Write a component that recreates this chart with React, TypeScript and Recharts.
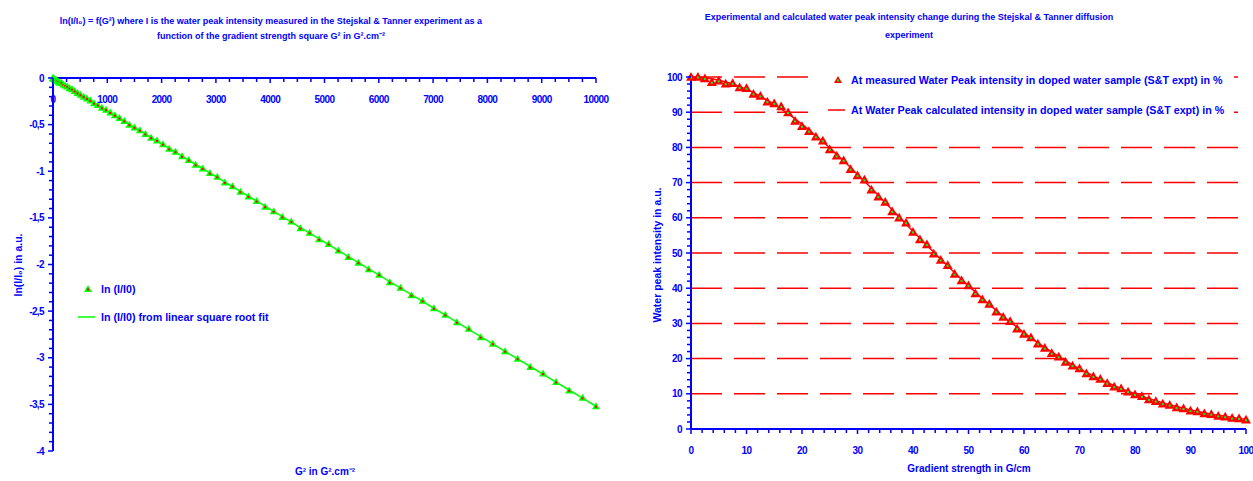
import { ComposedChart, Line, Scatter, XAxis, YAxis, CartesianGrid, Legend } from 'recharts';

const BLUE = '#0000FF';
const GREEN = '#00FF00';
const RED = '#FF0000';
const FONT = "'Liberation Sans Narrow', 'Liberation Sans', Arial, sans-serif";

// gradient strength steps of the Stejskal & Tanner run (G/cm)
const GRADIENT = [
  0, 1.25, 2.5, 3.75, 5, 6.25, 7.5, 8.75, 10, 11.25, 12.5, 13.75, 15, 16.25, 17.5, 18.75,
  20, 21.25, 22.5, 23.75, 25, 26.25, 27.5, 28.75, 30, 31.25, 32.5, 33.75, 35, 36.25, 37.5, 38.75,
  40, 41.25, 42.5, 43.75, 45, 46.25, 47.5, 48.75, 50, 51.25, 52.5, 53.75, 55, 56.25, 57.5, 58.75,
  60, 61.25, 62.5, 63.75, 65, 66.25, 67.5, 68.75, 70, 71.25, 72.5, 73.75, 75, 76.25, 77.5, 78.75,
  80, 81.25, 82.5, 83.75, 85, 86.25, 87.5, 88.75, 90, 91.25, 92.5, 93.75, 95, 96.25, 97.5, 98.75, 100,
];

// G² in G².cm⁻²
const GRADIENT_SQ = [
  0, 1.56, 6.25, 14.06, 25, 39.06, 56.25, 76.56, 100, 126.56, 156.25, 189.06, 225, 264.06, 306.25, 351.56,
  400, 451.56, 506.25, 564.06, 625, 689.06, 756.25, 826.56, 900, 976.56, 1056.25, 1139.06, 1225, 1314.06, 1406.25, 1501.56,
  1600, 1701.56, 1806.25, 1914.06, 2025, 2139.06, 2256.25, 2376.56, 2500, 2626.56, 2756.25, 2889.06, 3025, 3164.06, 3306.25, 3451.56,
  3600, 3751.56, 3906.25, 4064.06, 4225, 4389.06, 4556.25, 4726.56, 4900, 5076.56, 5256.25, 5439.06, 5625, 5814.06, 6006.25, 6201.56,
  6400, 6601.56, 6806.25, 7014.06, 7225, 7439.06, 7656.25, 7876.56, 8100, 8326.56, 8556.25, 8789.06, 9025, 9264.06, 9506.25, 9751.56, 10000,
];

const LN_MEASURED = [
  0, 0, -0.01, -0.01, -0.01, -0.02, -0.02, -0.03, -0.04, -0.05, -0.05, -0.07, -0.08, -0.09, -0.11, -0.12,
  -0.14, -0.16, -0.18, -0.2, -0.22, -0.24, -0.27, -0.29, -0.32, -0.34, -0.37, -0.4, -0.43, -0.46, -0.5, -0.53,
  -0.56, -0.6, -0.64, -0.67, -0.71, -0.76, -0.79, -0.84, -0.88, -0.93, -0.97, -1.02, -1.06, -1.12, -1.16, -1.22,
  -1.27, -1.32, -1.38, -1.43, -1.49, -1.54, -1.61, -1.66, -1.73, -1.78, -1.85, -1.92, -1.98, -2.05, -2.11, -2.19,
  -2.25, -2.33, -2.39, -2.47, -2.54, -2.62, -2.69, -2.78, -2.85, -2.93, -3.01, -3.1, -3.17, -3.26, -3.35, -3.43, -3.52,
];

const LN_FIT = [
  0, -0.001, -0.002, -0.005, -0.009, -0.014, -0.02, -0.027, -0.035, -0.045, -0.055, -0.067, -0.079, -0.093, -0.108, -0.124,
  -0.141, -0.159, -0.178, -0.199, -0.22, -0.243, -0.266, -0.291, -0.317, -0.344, -0.372, -0.401, -0.431, -0.463, -0.495, -0.529,
  -0.563, -0.599, -0.636, -0.674, -0.713, -0.753, -0.794, -0.837, -0.88, -0.925, -0.97, -1.017, -1.065, -1.114, -1.164, -1.215,
  -1.267, -1.321, -1.375, -1.431, -1.487, -1.545, -1.604, -1.664, -1.725, -1.787, -1.85, -1.915, -1.98, -2.047, -2.114, -2.183,
  -2.253, -2.324, -2.396, -2.469, -2.543, -2.619, -2.695, -2.773, -2.851, -2.931, -3.012, -3.094, -3.177, -3.261, -3.346, -3.433, -3.52,
];

const PCT_MEASURED = [
  100, 100, 99.6, 98.5, 98.9, 98.1, 98.2, 97, 96.8, 95.2, 94.6, 93, 92.5, 91.6, 89.9, 87.5,
  86, 84.6, 83, 81.9, 79.4, 77.6, 76.3, 73.8, 72, 70.8, 68, 66, 64.5, 61.8, 60, 58.6,
  56, 53.8, 52.4, 49.8, 48, 46.5, 44, 42.2, 40.8, 38.5, 36.8, 35.5, 33.3, 31.8, 30.6, 28.5,
  27, 26, 24.2, 23, 21.5, 20.5, 19, 18, 17.2, 15.8, 14.9, 14.2, 13, 12, 11.5, 10.6,
  9.8, 9.3, 8.4, 7.9, 7.2, 6.8, 6.1, 5.8, 5.2, 5, 4.4, 4.2, 3.7, 3.5, 3.1, 3, 2.6,
];

const PCT_CALC = [
  100, 99.9, 99.8, 99.5, 99.1, 98.6, 98, 97.3, 96.5, 95.6, 94.5, 93.4, 92.2, 90.9, 89.6, 88.1,
  86.6, 85, 83.3, 81.6, 79.9, 78, 76.2, 74.3, 72.3, 70.4, 68.4, 66.4, 64.3, 62.3, 60.3, 58.2,
  56.2, 54.2, 52.2, 50.2, 48.2, 46.3, 44.4, 42.5, 40.7, 38.9, 37.1, 35.3, 33.7, 32, 30.4, 28.9,
  27.4, 25.9, 24.5, 23.2, 21.9, 20.6, 19.4, 18.2, 17.1, 16.1, 15.1, 14.1, 13.2, 12.3, 11.5, 10.7,
  10, 9.3, 8.6, 8, 7.4, 6.9, 6.4, 5.9, 5.4, 5, 4.6, 4.2, 3.9, 3.6, 3.3, 3, 2.7,
];

const LEFT_X_LABELS = [0, 1000, 2000, 3000, 4000, 5000, 6000, 7000, 8000, 9000, 10000];
const LEFT_Y_LABELS = [0, -0.5, -1, -1.5, -2, -2.5, -3, -3.5, -4];
const RIGHT_X_LABELS = [0, 10, 20, 30, 40, 50, 60, 70, 80, 90, 100];
const RIGHT_Y_LABELS = [0, 10, 20, 30, 40, 50, 60, 70, 80, 90, 100];
const RIGHT_GRID = [10, 20, 30, 40, 50, 60, 70, 80, 90, 100];

const leftData = GRADIENT_SQ.map((g2, i) => ({ g2, measured: LN_MEASURED[i], fit: LN_FIT[i] }));
const rightData = GRADIENT.map((g, i) => ({ g, measured: PCT_MEASURED[i], calc: PCT_CALC[i] }));

// minor tick positions between the labelled ones
function steps(from: number, to: number, step: number) {
  const out: number[] = [];
  const n = Math.round((to - from) / step);
  for (let i = 0; i <= n; i++) out.push(+(from + i * step).toFixed(6));
  return out;
}

const isMajor = (v: number, majors: number[]) => majors.some((m) => Math.abs(m - v) < 1e-6);
const commaFmt = (v: number) => String(v).replace('.', ',');

const tickText = { fontFamily: FONT, fontSize: 10, fontWeight: 700, fill: BLUE, letterSpacing: -0.6 };

function makeTick(side: 'left' | 'top' | 'bottom', majors: number[], fmt: (v: number) => string) {
  return function Tick(props: any) {
    const { x, y, payload } = props;
    const v = payload.value;
    const major = isMajor(v, majors);
    const len = major ? 5 : 4;
    if (side === 'left') {
      return (
        <g>
          <line x1={x - len} y1={y} x2={x} y2={y} stroke={BLUE} strokeWidth={1.5} />
          {major && (
            <text x={x - 9} y={y} dy="0.35em" textAnchor="end" style={tickText}>
              {fmt(v)}
            </text>
          )}
        </g>
      );
    }
    return (
      <g>
        <line x1={x} y1={y} x2={x} y2={y + len} stroke={BLUE} strokeWidth={1.5} />
        {major && (
          <text x={x} y={y + 21} dy="0.35em" textAnchor="middle" style={tickText}>
            {fmt(v)}
          </text>
        )}
      </g>
    );
  };
}

function Triangle({ cx, cy, fill, dot, r }: { cx: number; cy: number; fill: string; dot: string; r: number }) {
  return (
    <g>
      <path d={`M${cx},${cy - r} L${cx + r},${cy + r * 0.75} L${cx - r},${cy + r * 0.75} Z`} fill={fill} />
      <rect x={cx - 1} y={cy - 0.5} width={2} height={2} fill={dot} />
    </g>
  );
}

type LegendItem = { label: string; kind: 'marker' | 'line'; color: string; dot: string };

const LEFT_LEGEND: LegendItem[] = [
  { label: 'ln (I/I0)', kind: 'marker', color: GREEN, dot: RED },
  { label: 'ln (I/I0) from linear square root fit', kind: 'line', color: GREEN, dot: RED },
];

const RIGHT_LEGEND: LegendItem[] = [
  { label: 'At measured Water Peak intensity in doped water sample (S&T expt) in %', kind: 'marker', color: RED, dot: GREEN },
  { label: 'At Water Peak calculated intensity in doped water sample (S&T expt) in %', kind: 'line', color: RED, dot: GREEN },
];

function LegendBox({ items, rowHeight, padLeft }: { items: LegendItem[]; rowHeight: number; padLeft: number }) {
  return (
    <div style={{ background: '#fff', paddingLeft: padLeft, paddingRight: 10 }}>
      {items.map((it) => (
        <div key={it.label} style={{ display: 'flex', alignItems: 'center', height: rowHeight }}>
          <svg width={18} height={10} style={{ marginRight: 5 }}>
            {it.kind === 'line' ? (
              <line x1={0} y1={5} x2={17} y2={5} stroke={it.color} strokeWidth={1.5} />
            ) : (
              <Triangle cx={10} cy={5} r={4} fill={it.color} dot={it.dot} />
            )}
          </svg>
          <span style={{ fontFamily: FONT, fontSize: 10.7, fontWeight: 700, color: BLUE, whiteSpace: 'nowrap' }}>
            {it.label}
          </span>
        </div>
      ))}
    </div>
  );
}

const textStyle: React.CSSProperties = {
  position: 'absolute',
  fontFamily: FONT,
  fontSize: 10,
  fontWeight: 700,
  color: BLUE,
  whiteSpace: 'nowrap',
  transform: 'translate(-50%, -50%)',
  lineHeight: '12px',
};

export default function App() {
  return (
    <div style={{ position: 'absolute', left: 0, top: 0, width: 1253, height: 481, background: '#fff', overflow: 'hidden' }}>
      <div style={{ position: 'absolute', left: 0, top: 0 }}>
        <ComposedChart width={620} height={481} data={leftData} margin={{ top: 77, left: 52, right: 24, bottom: 30 }}>
          <XAxis
            dataKey="g2"
            type="number"
            orientation="top"
            domain={[0, 10000]}
            ticks={steps(0, 10000, 250)}
            interval={0}
            height={1}
            tickSize={0}
            tickMargin={0}
            tick={makeTick('top', LEFT_X_LABELS, (v) => String(v))}
            axisLine={{ stroke: BLUE, strokeWidth: 2 }}
            tickLine={false}
          />
          <YAxis
            type="number"
            domain={[-4, 0]}
            ticks={steps(-4, 0, 0.1)}
            interval={0}
            width={1}
            tickSize={0}
            tickMargin={0}
            tick={makeTick('left', LEFT_Y_LABELS, commaFmt)}
            axisLine={{ stroke: BLUE, strokeWidth: 2 }}
            tickLine={false}
          />
          <Line type="linear" dataKey="fit" stroke={GREEN} strokeWidth={1.5} dot={false} isAnimationActive={false} />
          <Scatter
            dataKey="measured"
            isAnimationActive={false}
            shape={(p: any) => <Triangle cx={p.cx} cy={p.cy} r={4} fill={GREEN} dot={RED} />}
          />
          <Legend
            layout="horizontal"
            verticalAlign="middle"
            align="center"
            wrapperStyle={{ left: 70, top: 275, width: 'auto', height: 'auto' }}
            content={() => <LegendBox items={LEFT_LEGEND} rowHeight={28} padLeft={8} />}
          />
        </ComposedChart>
      </div>

      <div style={{ position: 'absolute', left: 630, top: 0 }}>
        <ComposedChart width={623} height={481} data={rightData} margin={{ top: 77, left: 60, right: 7, bottom: 51 }}>
          <CartesianGrid
            horizontal
            vertical={false}
            horizontalValues={RIGHT_GRID}
            stroke={RED}
            strokeWidth={1.5}
            strokeDasharray="31 12"
          />
          <XAxis
            dataKey="g"
            type="number"
            domain={[0, 100]}
            ticks={steps(0, 100, 2)}
            interval={0}
            height={1}
            tickSize={0}
            tickMargin={0}
            tick={makeTick('bottom', RIGHT_X_LABELS, (v) => String(v))}
            axisLine={{ stroke: BLUE, strokeWidth: 2 }}
            tickLine={false}
          />
          <YAxis
            type="number"
            domain={[0, 100]}
            ticks={steps(0, 100, 2)}
            interval={0}
            width={1}
            tickSize={0}
            tickMargin={0}
            tick={makeTick('left', RIGHT_Y_LABELS, (v) => String(v))}
            axisLine={{ stroke: BLUE, strokeWidth: 2 }}
            tickLine={false}
          />
          <Line type="linear" dataKey="calc" stroke={RED} strokeWidth={1.5} dot={false} isAnimationActive={false} />
          <Scatter
            dataKey="measured"
            isAnimationActive={false}
            shape={(p: any) => <Triangle cx={p.cx} cy={p.cy} r={5} fill={RED} dot={GREEN} />}
          />
          <Legend
            layout="horizontal"
            verticalAlign="middle"
            align="center"
            wrapperStyle={{ left: 182, top: 65, width: 'auto', height: 'auto' }}
            content={() => <LegendBox items={RIGHT_LEGEND} rowHeight={30} padLeft={16} />}
          />
        </ComposedChart>
      </div>

      <div style={{ ...textStyle, fontSize: 9, left: 271, top: 21 }}>
        ln(I/I₀) = f(G²) where I is the water peak intensity measured in the Stejskal &amp; Tanner experiment as a
      </div>
      <div style={{ ...textStyle, fontSize: 9, left: 271, top: 36 }}>function of the gradient strength square G² in G².cm⁻²</div>
      <div style={{ ...textStyle, fontSize: 9, left: 909, top: 17 }}>
        Experimental and calculated water peak intensity change during the Stejskal &amp; Tanner diffusion
      </div>
      <div style={{ ...textStyle, fontSize: 9, left: 909, top: 35 }}>experiment</div>

      <div style={{ ...textStyle, fontSize: 10.5, left: 18, top: 265, transform: 'translate(-50%, -50%) rotate(-90deg)' }}>
        ln(I/I₀) in a.u.
      </div>
      <div style={{ ...textStyle, left: 325, top: 472 }}>G² in G².cm⁻²</div>
      <div style={{ ...textStyle, fontSize: 10.5, left: 657, top: 255, transform: 'translate(-50%, -50%) rotate(-90deg)' }}>
        Water peak intensity in a.u.
      </div>
      <div style={{ ...textStyle, left: 969, top: 469 }}>Gradient strength in G/cm</div>
    </div>
  );
}
